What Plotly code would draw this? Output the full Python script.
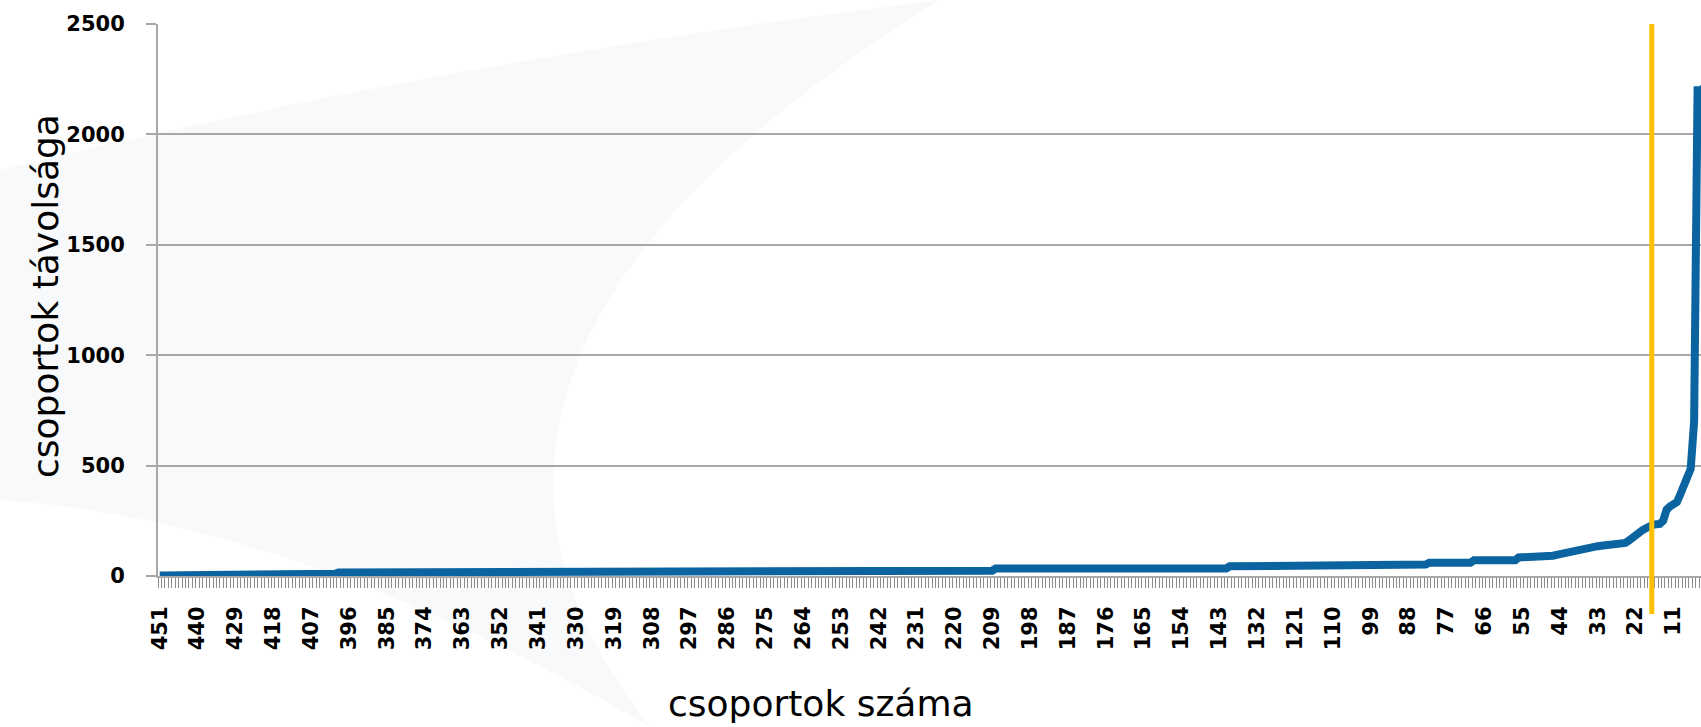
import plotly.graph_objects as go

# ---------------- data ----------------
# categories run from 451 (left) down to 1 (right, partly cut by the frame)
categories = list(range(451, 0, -1))

# group distance values, one row per 11 categories (451-441, 440-430, ... , 11-1)
values = [
    2, 2, 2, 2, 2, 2, 2, 2, 2, 2, 2,                      # 451-441
    2, 2, 2, 2, 2, 2, 2, 2, 2, 2, 2,                      # 440-430
    2, 2, 2, 2, 2, 2, 2, 2, 2, 2, 2,                      # 429-419
    2, 10, 10, 10, 10, 10, 10, 10, 10, 10, 10,            # 418-408
    10, 10, 10, 10, 10, 10, 10, 10, 16, 16, 16,           # 407-397
    16, 16, 16, 16, 16, 16, 16, 16, 16, 16, 16,           # 396-386
    16, 16, 16, 16, 16, 16, 16, 16, 16, 16, 16,           # 385-375
    16, 16, 16, 16, 16, 16, 16, 16, 16, 16, 16,           # 374-364
    16, 16, 16, 16, 16, 16, 16, 16, 16, 16, 16,           # 363-353
    16, 16, 16, 16, 16, 16, 16, 16, 16, 16, 16,           # 352-342
    16, 16, 16, 16, 16, 16, 16, 16, 16, 16, 16,           # 341-331
    16, 16, 16, 16, 16, 16, 16, 16, 16, 16, 16,           # 330-320
    16, 16, 16, 16, 16, 16, 16, 16, 16, 16, 16,           # 319-309
    16, 16, 16, 16, 16, 16, 16, 16, 16, 24, 24,           # 308-298
    24, 24, 24, 24, 24, 24, 24, 24, 24, 24, 24,           # 297-287
    24, 24, 24, 24, 24, 24, 24, 24, 24, 24, 24,           # 286-276
    24, 24, 24, 24, 24, 24, 24, 24, 24, 24, 24,           # 275-265
    24, 24, 24, 24, 24, 24, 24, 24, 24, 24, 24,           # 264-254
    24, 24, 24, 24, 24, 24, 24, 24, 24, 24, 24,           # 253-243
    24, 24, 24, 24, 24, 24, 24, 24, 24, 24, 24,           # 242-232
    24, 24, 24, 24, 24, 24, 24, 24, 24, 24, 24,           # 231-221
    24, 24, 24, 24, 24, 24, 24, 24, 24, 24, 24,           # 220-210
    24, 34, 34, 34, 34, 34, 34, 34, 34, 34, 34,           # 209-199
    34, 34, 34, 34, 34, 34, 34, 34, 34, 34, 34,           # 198-188
    34, 34, 34, 34, 34, 34, 34, 34, 34, 34, 34,           # 187-177
    34, 34, 34, 34, 34, 34, 34, 34, 34, 34, 34,           # 176-166
    34, 34, 34, 34, 34, 34, 34, 34, 34, 34, 34,           # 165-155
    34, 34, 34, 34, 34, 34, 34, 34, 34, 34, 34,           # 154-144
    34, 34, 34, 44, 44, 44, 44, 44, 44, 44, 44,           # 143-133
    44, 44, 44, 44, 44, 44, 44, 44, 44, 44, 44,           # 132-122
    44, 44, 44, 44, 44, 44, 44, 44, 44, 44, 44,           # 121-111
    44, 44, 44, 44, 44, 44, 52, 52, 52, 52, 52,           # 110-100
    52, 52, 52, 52, 52, 52, 52, 52, 52, 52, 52,           # 99-89
    52, 52, 52, 52, 52, 52, 60, 60, 60, 60, 60,           # 88-78
    60, 60, 60, 60, 60, 60, 60, 60, 71, 71, 71,           # 77-67
    71, 71, 71, 71, 71, 71, 71, 71, 71, 71, 84,           # 66-56
    84, 84, 84, 84, 84, 84, 84, 84, 84, 92, 96,           # 55-45
    100, 104, 106, 108, 112, 118, 122, 126, 129, 131, 133,  # 44-34
    135, 137, 139, 140, 141, 142, 143, 145, 150, 160, 175,  # 33-23
    190, 200, 208, 216, 226, 232, 234, 236, 250, 300, 315,  # 22-12
    325, 335, 370, 410, 450, 485, 700, 2200, 2200, 2210, 2230,  # 11-1
]

tick_values = list(range(451, 0, -11))
tick_labels = [str(v) for v in tick_values]

y_ticks = [0, 500, 1000, 1500, 2000, 2500]
cut_position = 17.3  # the orange marker between 22 and 11

x_title = "csoportok száma"
y_title = "csoportok távolsága"

# ---------------- layout helpers (pixel -> paper) ----------------
W, H = 1701, 727
L, R, T, B = 158, 0, 24, 151
PW, PH = W - L - R, H - T - B


def px(x):
    return (x - L) / PW


def py(y):
    return (H - B - y) / PH


def path_px(cmds):
    out = []
    for c in cmds:
        if isinstance(c, str):
            out.append(c)
        else:
            out.append(f"{px(c[0]):.4f},{py(c[1]):.4f}")
    return " ".join(out)


grid_col = "#A8A8A8"
line_col = "#0B64A0"

fig = go.Figure()
fig.add_trace(go.Scatter(
    x=categories, y=values, mode="lines",
    line=dict(color=line_col, width=8),
    hoverinfo="x+y", showlegend=False,
))

swoosh = path_px([
    "M", (0, 170), "Q", (450, 60), (940, 0),
    "Q", (360, 360), (650, 727),
    "Q", (300, 520), (0, 500), "Z",
])

fig.update_layout(
    width=W, height=H,
    margin=dict(l=L, r=R, t=T, b=B),
    paper_bgcolor="white",
    plot_bgcolor="rgba(0,0,0,0)",
    font=dict(family="DejaVu Sans", color="black"),
    shapes=[
        dict(type="path", path=swoosh, xref="paper", yref="paper",
             fillcolor="#E9EBEE", opacity=0.32, line=dict(width=0), layer="below"),
        dict(type="line", xref="x", yref="paper",
             x0=cut_position, x1=cut_position, y0=py(614), y1=1,
             line=dict(color="#FFC000", width=5), layer="above"),
    ],
    annotations=[
        dict(text=x_title, xref="paper", yref="paper", x=px(821), y=py(703),
             xanchor="center", yanchor="middle", showarrow=False,
             font=dict(family="DejaVu Sans", size=36, color="black")),
        dict(text=y_title, xref="paper", yref="paper", x=px(45), y=py(296),
             xanchor="center", yanchor="middle", showarrow=False, textangle=-90,
             font=dict(family="DejaVu Sans", size=36, color="black")),
    ],
)

fig.update_xaxes(
    range=[451.5, 3.0],
    tickmode="array", tickvals=tick_values, ticktext=tick_labels,
    tickangle=-90,
    tickfont=dict(family="DejaVu Sans", size=21, color="black", weight="bold"),
    ticks="", ticklabelstandoff=20,
    showgrid=False, zeroline=False,
    showline=True, linecolor=grid_col, linewidth=2,
    layer="below traces",
    minor=dict(ticks="outside", ticklen=10, tickwidth=1, tickcolor="#8C8C8C",
               tickmode="linear", tick0=0.5, dtick=1, showgrid=False),
)

fig.update_yaxes(
    range=[0, 2500],
    tickmode="array", tickvals=y_ticks, ticktext=[str(v) for v in y_ticks],
    tickfont=dict(family="DejaVu Sans", size=21, color="black", weight="bold"),
    ticks="outside", ticklen=10, tickwidth=2, tickcolor=grid_col,
    ticklabelstandoff=17,
    showgrid=True, gridcolor=grid_col, gridwidth=2,
    zeroline=False,
    showline=True, linecolor=grid_col, linewidth=2,
    layer="below traces",
)

fig.write_html(
    "out.html",
    config={"displayModeBar": False},
    post_script="document.body.style.margin='0';document.body.style.overflow='hidden';",
)
